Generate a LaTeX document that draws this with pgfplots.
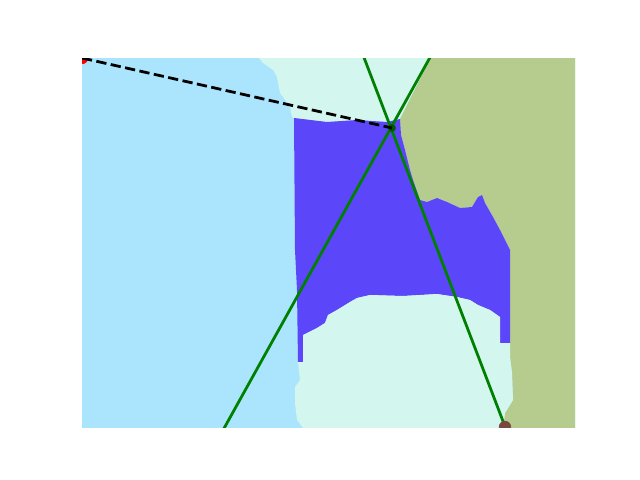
\documentclass[border=0pt]{standalone}
\usepackage{pgfplots}
\pgfplotsset{compat=1.18}
\definecolor{skyreg}{RGB}{170,228,253}
\definecolor{mintreg}{RGB}{211,246,238}
\definecolor{violetreg}{RGB}{92,70,250}
\definecolor{olivereg}{RGB}{182,204,143}
\definecolor{mplgreen}{RGB}{0,128,0}
\definecolor{mplbrown}{RGB}{120,72,60}
\begin{document}
\begin{tikzpicture}
\useasboundingbox (0,0) rectangle (460.8pt,345.6pt);
\begin{axis}[
    at={(59.04pt,38.16pt)}, anchor=south west,
    scale only axis,
    width=354.96pt, height=265.68pt,
    hide axis,
    xmin=82, xmax=575,
    ymin=58, ymax=427,
    y dir=reverse,
    clip=true,
    clip marker paths=true,
]
% regions (pixel coordinates of the reference)
\addplot[fill=skyreg, draw=none] coordinates {
    (81,57) (576,57) (576,428) (81,428)} -- cycle;
\addplot[fill=mintreg, draw=none] coordinates {
    (258,57) (431,57) (400,119) (387,122) (357,120) (327,122) (294,118)
    (292,117) (290,107) (285,100) (280,93) (278,83) (277,77) (273,70) (263,63)} -- cycle;
\addplot[fill=olivereg, draw=none] coordinates {
    (431,57) (577,57) (577,428) (503,428) (505,413) (513,400) (512,373)
    (510,357) (510,250) (500,230) (493,217) (485,203) (482,195) (478,197)
    (472,207) (460,208) (447,202) (437,198) (427,202) (420,200) (413,180)
    (410,170) (405,150) (401,135) (400,119)} -- cycle;
\addplot[fill=violetreg, draw=none] coordinates {
    (294,118) (327,122) (357,120) (387,122) (400,119) (401,135) (405,150)
    (410,170) (413,180) (420,200) (427,202) (437,198) (447,202) (460,208)
    (472,207) (478,197) (482,195) (485,203) (493,217) (500,230) (510,250)
    (510,343) (500,343) (500,317) (490,310) (478,305) (470,300) (457,297)
    (437,294) (403,296) (370,295) (357,298) (350,302) (337,310) (328,315)
    (325,323) (317,328) (307,333) (303,335) (303,362) (298,362) (297,290)
    (295,250)} -- cycle;
\addplot[fill=mintreg, draw=none] coordinates {
    (303,335) (307,333) (317,328) (325,323) (328,315) (337,310) (350,302)
    (357,298) (370,295) (403,296) (437,294) (457,297) (470,300) (478,305)
    (490,310) (500,317) (500,343) (510,343) (510,357) (512,373) (513,400)
    (505,413) (503,428) (303,428) (297,420) (295,403) (295,387) (300,380)
    (298,362) (303,362)} -- cycle;
% lines
\addplot[mplgreen, line width=2pt] coordinates {(355,34) (514,450)};
\addplot[mplgreen, line width=2pt] coordinates {(443,34) (212,450)};
% points
\addplot[only marks, mark=*, mark size=4.2pt, mark options={draw=red, fill=red}] coordinates {(82,58)};
\addplot[only marks, mark=*, mark size=2.5pt, mark options={draw=mplgreen!70!black, fill=mplgreen!70!black}] coordinates {(392,128)};
\addplot[only marks, mark=*, mark size=4.2pt, mark options={draw=mplbrown, fill=mplbrown}] coordinates {(505,427)};
\addplot[black, line width=2pt, dash pattern=on 7.4pt off 3.2pt] coordinates {(82,58) (392,128)};
\end{axis}
\end{tikzpicture}
\end{document}
